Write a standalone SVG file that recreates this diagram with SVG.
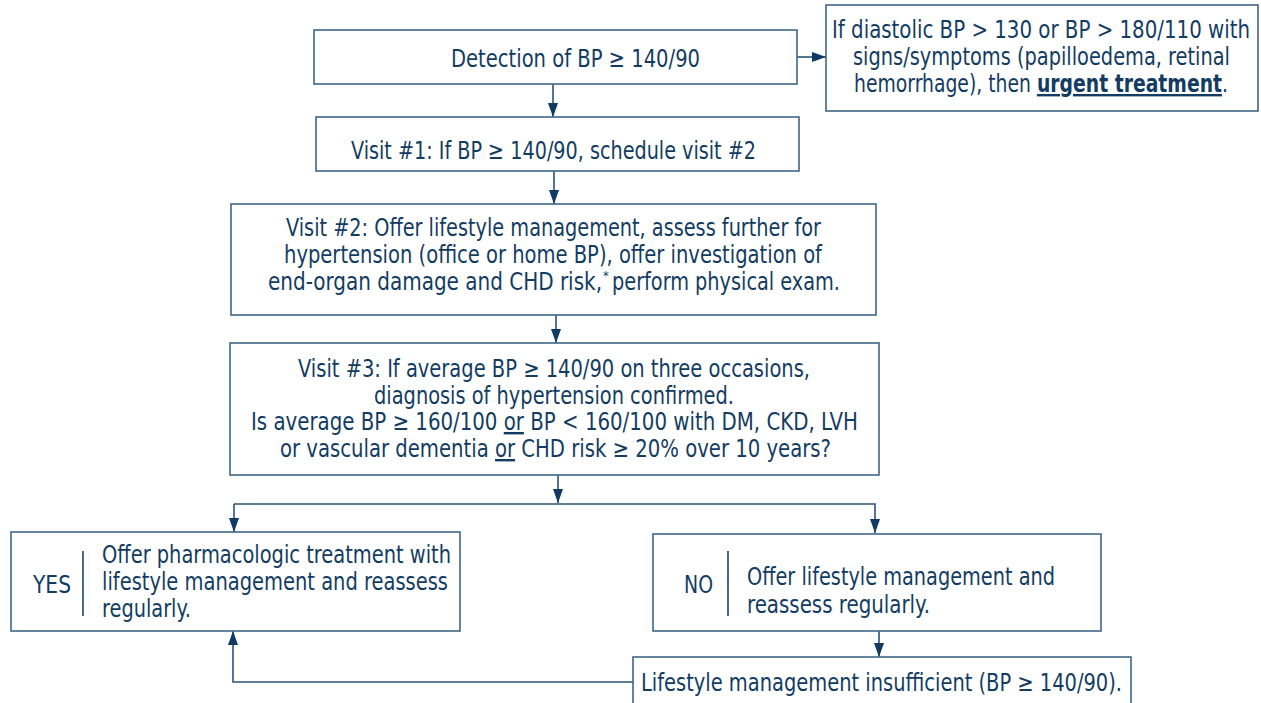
<svg xmlns="http://www.w3.org/2000/svg" width="1261" height="703" viewBox="0 0 1261 703">
<defs>
<style>
.box{fill:#fff;stroke:#3f6688;stroke-width:1.6}
.div{stroke:#1d4469;stroke-width:1.6}
.con{fill:none;stroke:#2a5378;stroke-width:1.6}
.t{font-family:"Liberation Sans Narrow","DejaVu Sans Condensed","Liberation Sans",sans-serif;font-size:24px;fill:#133c62}
.big{font-size:25px}
.sup{font-size:13px}
.b{font-weight:bold}
.u{text-decoration:underline}
</style>
<marker id="ah" viewBox="0 0 14 10" refX="14" refY="5" markerWidth="14" markerHeight="10" markerUnits="userSpaceOnUse" orient="auto">
<path d="M0,0 L14,5 L0,10 z" fill="#0f3a62"/>
</marker>
</defs>
<rect width="1261" height="703" fill="#fff"/>

<g id="connectors">
<line class="con" x1="553" y1="84" x2="553" y2="117" marker-end="url(#ah)"/>
<line class="con" x1="797" y1="57" x2="826" y2="57" marker-end="url(#ah)"/>
<line class="con" x1="554" y1="171" x2="554" y2="204" marker-end="url(#ah)"/>
<line class="con" x1="556" y1="315" x2="556" y2="343" marker-end="url(#ah)"/>
<line class="con" x1="558" y1="475" x2="558" y2="503" marker-end="url(#ah)"/>
<polyline class="con" points="234,504 875,504 875,533" marker-end="url(#ah)"/>
<line class="con" x1="234" y1="504" x2="234" y2="532" marker-end="url(#ah)"/>
<line class="con" x1="879" y1="631" x2="879" y2="657" marker-end="url(#ah)"/>
<polyline class="con" points="633,682 233,682 233,631" marker-end="url(#ah)"/>
</g>

<g id="detection">
<rect class="box" x="314" y="30" width="483" height="54"/>
<text class="t big" x="451" y="67" textLength="249" lengthAdjust="spacingAndGlyphs">Detection of BP ≥ 140/90</text>
</g>

<g id="urgent">
<rect class="box" x="826" y="5" width="432" height="106"/>
<text class="t" x="832" y="38" textLength="418" lengthAdjust="spacingAndGlyphs">If diastolic BP &gt; 130 or BP &gt; 180/110 with</text>
<text class="t" x="853" y="65" textLength="377" lengthAdjust="spacingAndGlyphs">signs/symptoms (papilloedema, retinal</text>
<text class="t" x="854" y="92" textLength="374" lengthAdjust="spacingAndGlyphs">hemorrhage), then <tspan class="b u">urgent treatment</tspan>.</text>
</g>

<g id="visit1">
<rect class="box" x="316" y="117" width="483" height="54"/>
<text class="t big" x="351" y="159" textLength="405" lengthAdjust="spacingAndGlyphs">Visit #1: If BP ≥ 140/90, schedule visit #2</text>
</g>

<g id="visit2">
<rect class="box" x="231" y="204" width="645" height="111"/>
<text class="t" x="286" y="236" textLength="535" lengthAdjust="spacingAndGlyphs">Visit #2: Offer lifestyle management, assess further for</text>
<text class="t" x="284" y="263" textLength="538" lengthAdjust="spacingAndGlyphs">hypertension (office or home BP), offer investigation of</text>
<text class="t" x="268" y="290" textLength="334" lengthAdjust="spacingAndGlyphs">end-organ damage and CHD risk,</text>
<text class="t sup" x="603" y="280">*</text>
<text class="t" x="612" y="290" textLength="228" lengthAdjust="spacingAndGlyphs">perform physical exam.</text>
</g>

<g id="visit3">
<rect class="box" x="230" y="343" width="649" height="132"/>
<text class="t" x="298" y="377" textLength="512" lengthAdjust="spacingAndGlyphs">Visit #3: If average BP ≥ 140/90 on three occasions,</text>
<text class="t" x="374" y="404" textLength="360" lengthAdjust="spacingAndGlyphs">diagnosis of hypertension confirmed.</text>
<text class="t" x="251" y="430" textLength="607" lengthAdjust="spacingAndGlyphs">Is average BP ≥ 160/100 <tspan class="u">or</tspan> BP &lt; 160/100 with DM, CKD, LVH</text>
<text class="t" x="280" y="457" textLength="551" lengthAdjust="spacingAndGlyphs">or vascular dementia <tspan class="u">or</tspan> CHD risk ≥ 20% over 10 years?</text>
</g>

<g id="yes">
<rect class="box" x="11" y="532" width="449" height="99"/>
<line class="div" x1="83" y1="551" x2="83" y2="616"/>
<text class="t" x="33" y="593" textLength="38" lengthAdjust="spacingAndGlyphs">YES</text>
<text class="t" x="102" y="563" textLength="349" lengthAdjust="spacingAndGlyphs">Offer pharmacologic treatment with</text>
<text class="t" x="102" y="590" textLength="346" lengthAdjust="spacingAndGlyphs">lifestyle management and reassess</text>
<text class="t" x="102" y="617" textLength="89" lengthAdjust="spacingAndGlyphs">regularly.</text>
</g>

<g id="no">
<rect class="box" x="653" y="534" width="448" height="97"/>
<line class="div" x1="728" y1="551" x2="728" y2="616"/>
<text class="t" x="684" y="593" textLength="29" lengthAdjust="spacingAndGlyphs">NO</text>
<text class="t" x="747" y="585" textLength="308" lengthAdjust="spacingAndGlyphs">Offer lifestyle management and</text>
<text class="t" x="747" y="613" textLength="183" lengthAdjust="spacingAndGlyphs">reassess regularly.</text>
</g>

<g id="insufficient">
<rect class="box" x="633" y="657" width="498" height="50"/>
<text class="t" x="641" y="691" textLength="481" lengthAdjust="spacingAndGlyphs">Lifestyle management insufficient (BP ≥ 140/90).</text>
</g>
</svg>
